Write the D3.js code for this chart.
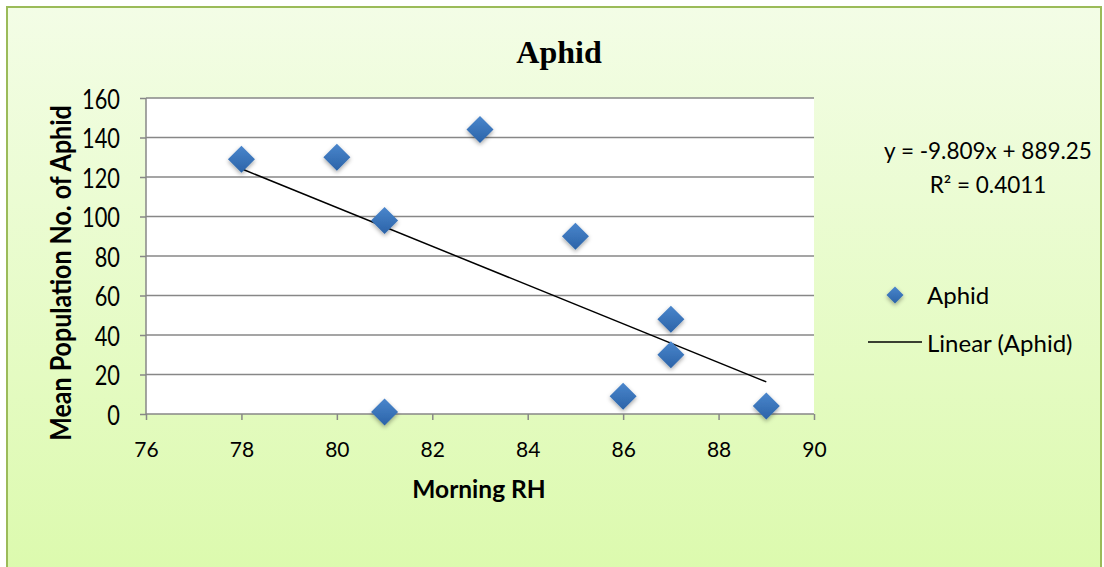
<!DOCTYPE html>
<html><head><meta charset="utf-8">
<script src="https://cdn.jsdelivr.net/npm/d3@7"></script>
<style>body{margin:0;background:#fff}svg{display:block}</style>
</head><body>
<script>
const title = "Aphid";
const xLabel = "Morning RH";
const yLabel = "Mean Population No. of Aphid";
const morningRH = [78, 80, 81, 81, 83, 85, 86, 87, 87, 89];
const aphidMean = [129, 130, 98, 1, 144, 90, 9, 48, 30, 4];
const xTicks = [76, 78, 80, 82, 84, 86, 88, 90];
const yTicks = [0, 20, 40, 60, 80, 100, 120, 140, 160];
const trendSlope = -9.809;
const trendIntercept = 889.25;
const equationLines = ["y = -9.809x + 889.25", "R² = 0.4011"];
const legendLabels = ["Aphid", "Linear (Aphid)"];

const W = 1104, H = 567;
const svg = d3.select("body").append("svg").attr("width", W).attr("height", H);
const defs = svg.append("defs");
const bg = defs.append("linearGradient").attr("id","bg").attr("x1",0).attr("y1",0).attr("x2",0).attr("y2",1);
bg.append("stop").attr("offset","0%").attr("stop-color","#f3fde6");
bg.append("stop").attr("offset","100%").attr("stop-color","#dcfaae");
const mk = defs.append("linearGradient").attr("id","mk").attr("x1",0).attr("y1",0).attr("x2",0).attr("y2",1);
mk.append("stop").attr("offset","0%").attr("stop-color","#4a86cc");
mk.append("stop").attr("offset","100%").attr("stop-color","#2b63a8");
const sh = defs.append("filter").attr("id","sh").attr("x","-50%").attr("y","-50%").attr("width","200%").attr("height","200%");
sh.append("feDropShadow").attr("dx",0).attr("dy",2).attr("stdDeviation",2).attr("flood-color","#000").attr("flood-opacity",0.35);

svg.append("rect").attr("x",7).attr("y",7).attr("width",1094).attr("height",562)
  .attr("fill","url(#bg)").attr("stroke","#9bbb59").attr("stroke-width",2);

const m = {l:146, r:814, t:98, b:414};
const x = d3.scaleLinear().domain([76, 90]).range([m.l, m.r]);
const y = d3.scaleLinear().domain([0, 160]).range([m.b, m.t]);

svg.append("rect").attr("x",m.l).attr("y",m.t).attr("width",m.r-m.l).attr("height",m.b-m.t).attr("fill","#fff");

// gridlines
svg.append("g").selectAll("line").data(yTicks.filter(d=>d>0)).join("line")
  .attr("x1",m.l).attr("x2",m.r).attr("y1",d=>y(d)).attr("y2",d=>y(d))
  .attr("stroke","#878787").attr("stroke-width",1.5);

// axes
const font = "Lato, 'Open Sans', sans-serif";
const gy = svg.append("g").attr("transform",`translate(${m.l},0)`)
  .call(d3.axisLeft(y).tickValues(yTicks).tickSize(6).tickFormat(d3.format("d")));
const gx = svg.append("g").attr("transform",`translate(0,${m.b})`)
  .call(d3.axisBottom(x).tickValues(xTicks).tickSize(6).tickFormat(d3.format("d")));
[gx, gy].forEach(g=>{
  g.select(".domain").attr("stroke","#878787").attr("stroke-width",1.5);
  g.selectAll(".tick line").attr("stroke","#878787").attr("stroke-width",1.5);
  g.selectAll(".tick text").attr("fill","#000").attr("font-family",font);
});
gy.select(".domain").attr("d", `M0,${m.t}V${m.b}`);
gx.select(".domain").attr("d", `M${m.l},0H${m.r}`);
gy.selectAll(".tick text").attr("x",null).attr("dy",null).attr("font-size",21.8)
  .attr("text-anchor","end").attr("dominant-baseline","central")
  .attr("transform","translate(-26,0) scale(1,1.2)");
gx.selectAll(".tick text").attr("dy",null).attr("y",43).attr("font-size",21);

// trendline
const x0 = d3.min(morningRH), x1 = d3.max(morningRH);
svg.append("line").attr("x1",x(x0)).attr("y1",y(trendSlope*x0+trendIntercept))
  .attr("x2",x(x1)).attr("y2",y(trendSlope*x1+trendIntercept))
  .attr("stroke","#000").attr("stroke-width",1.5);

// markers
const diamond = (cx, cy, r) => `M${cx},${cy-r}L${cx+r},${cy}L${cx},${cy+r}L${cx-r},${cy}Z`;
svg.append("g").selectAll("path").data(morningRH.map((d,i)=>[d, aphidMean[i]])).join("path")
  .attr("d", d=>diamond(x(d[0]), y(d[1]), 13.5))
  .attr("fill","url(#mk)").attr("filter","url(#sh)");

// titles
svg.append("text").attr("x",559).attr("y",63).attr("text-anchor","middle")
  .attr("font-family","'Liberation Serif', 'Times New Roman', serif").attr("font-weight","bold")
  .attr("font-size",32).text(title);
svg.append("text").attr("x",479).attr("y",498).attr("text-anchor","middle")
  .attr("font-family",font).attr("font-weight","bold").attr("font-size",24.5).text(xLabel);
svg.append("text").attr("transform",`translate(71,273) rotate(-90) scale(1,1.15)`).attr("text-anchor","middle")
  .attr("font-family",font).attr("font-weight","bold").attr("font-size",25).text(yLabel);

// equation
svg.append("g").selectAll("text").data(equationLines).join("text")
  .attr("x",988).attr("y",(d,i)=>159+i*34).attr("text-anchor","middle")
  .attr("font-family",font).attr("font-size",22.5).attr("fill","#000").text(d=>d);

// legend
svg.append("path").attr("d", diamond(895, 295, 8.5)).attr("fill","url(#mk)").attr("filter","url(#sh)");
svg.append("text").attr("x",927).attr("y",304).attr("font-family",font).attr("font-size",24).text(legendLabels[0]);
svg.append("line").attr("x1",868).attr("x2",922).attr("y1",342).attr("y2",342).attr("stroke","#000").attr("stroke-width",1.5);
svg.append("text").attr("x",927).attr("y",352).attr("font-family",font).attr("font-size",24).text(legendLabels[1]);
</script>
</body></html>
